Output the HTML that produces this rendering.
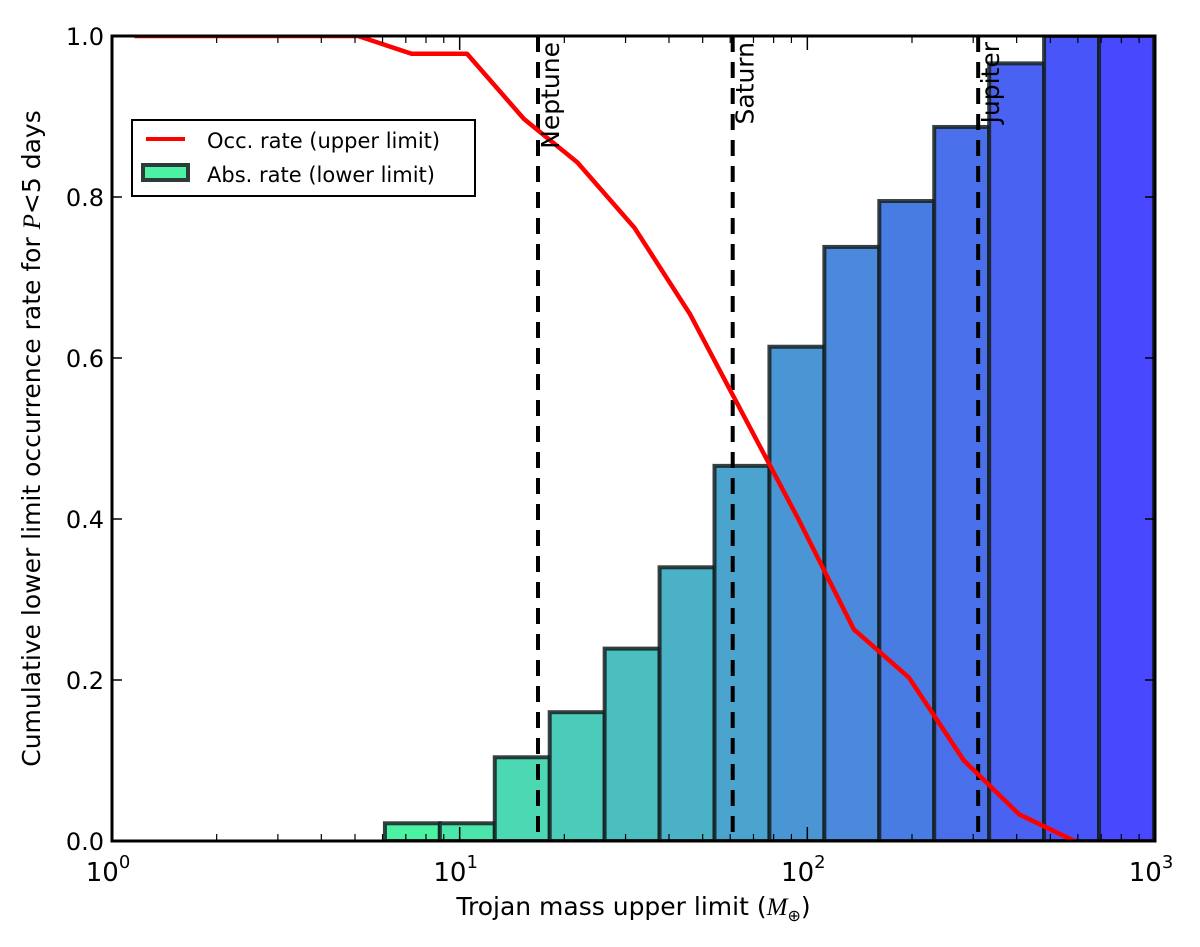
<!DOCTYPE html>
<html><head><meta charset="utf-8"><style>
html,body{margin:0;padding:0;background:#fff;}
svg{display:block;font-family:"DejaVu Sans","Liberation Sans",sans-serif;}
</style></head><body>
<svg id="chart" width="1200" height="947" viewBox="0 0 1200 947"></svg>
<script>
const binStartLog = 0.785;
const binStepLog = 0.158;
const barHeights = [0.022,0.022,0.104,0.160,0.239,0.340,0.466,0.614,0.738,0.795,0.887,0.966,1.0,1.0];
const lineX = [1.16,5.1,7.27,10.5,15.3,21.8,31.8,45.9,65.3,94.2,136,196,282,407,587];
const lineY = [1.0,1.0,0.978,0.978,0.897,0.843,0.762,0.655,0.53,0.40,0.263,0.203,0.10,0.033,0.0];
const planetNames = ["Neptune","Saturn","Jupiter"];
const planetMass = [16.8,61,310];
const yTicks = [0.0,0.2,0.4,0.6,0.8,1.0];
const yTickLabels = ["0.0","0.2","0.4","0.6","0.8","1.0"];
const xDecades = [0,1,2,3];

const L=112,R=1155,T=36,B=841;
const NS="http://www.w3.org/2000/svg";
const svg=document.getElementById('chart');
function xs(v){return L+(Math.log10(v))/3*(R-L);}
function xl(lg){return L+lg/3*(R-L);}
function ys(v){return B-v*(B-T);}
function el(tag,attrs,parent){const e=document.createElementNS(NS,tag);for(const k in attrs)e.setAttribute(k,attrs[k]);(parent||svg).appendChild(e);return e;}

const defs=el('defs',{});
const cp=el('clipPath',{id:'clip'},defs);
el('rect',{x:L,y:T,width:R-L,height:B-T},cp);
const plot=el('g',{'clip-path':'url(#clip)'});

const c0=[76,242,164],c1=[72,72,255];
barHeights.forEach((h,i)=>{
  const t=i/(barHeights.length-1);
  const c=c0.map((a,j)=>Math.round(a+(c1[j]-a)*t));
  const x0=xl(binStartLog+i*binStepLog),x1=xl(binStartLog+(i+1)*binStepLog);
  const r=el('rect',{x:x0,y:ys(h),width:x1-x0,height:ys(0)-ys(h),fill:`rgb(${c})`,stroke:'#142020','stroke-opacity':0.85,'stroke-width':4},plot);
  
  
});

planetMass.forEach((m,i)=>{
  const x=xs(m);
  const ln=el('line',{x1:x,x2:x,y1:T,y2:B,stroke:'#000','stroke-width':4,'stroke-dasharray':'16,10'},plot);
  
  
  const tx=el('text',{x:0,y:0,'font-size':25,transform:`translate(${x+21},${T+6}) rotate(-90)`,'text-anchor':'end'});
  tx.textContent=planetNames[i];
  
  
});

const pts=lineX.map((v,i)=>xs(v)+','+ys(lineY[i])).join(' ');
const pl=el('polyline',{points:pts,fill:'none',stroke:'#f00','stroke-width':4.5,'stroke-linejoin':'round'},plot);



const fr=el('rect',{x:L,y:T,width:R-L,height:B-T,fill:'none',stroke:'#000','stroke-width':3});



yTicks.forEach((v,i)=>{
  const y=ys(v);
  el('line',{x1:L,x2:L+10,y1:y,y2:y,stroke:'#000','stroke-width':1.5});
  el('line',{x1:R,x2:R-10,y1:y,y2:y,stroke:'#000','stroke-width':1.5});
  const t=el('text',{x:L-8,y:y+9,'font-size':24,'text-anchor':'end'});
  t.textContent=yTickLabels[i];
  
  
});
xDecades.forEach(d=>{
  const x=xl(d);
  el('line',{x1:x,x2:x,y1:B,y2:B-14,stroke:'#000','stroke-width':1.5});
  el('line',{x1:x,x2:x,y1:T,y2:T+14,stroke:'#000','stroke-width':1.5});
  const t=el('text',{x:x-4,y:B+40,'font-size':26,'text-anchor':'middle'});
  t.textContent='10';
  const s=el('tspan',{dy:-13,'font-size':18},t);
  s.textContent=String(d);
  
  
  if(d<3){for(let k=2;k<10;k++){const xm=xl(d+Math.log10(k));
    el('line',{x1:xm,x2:xm,y1:B,y2:B-7,stroke:'#000','stroke-width':1.2});
    el('line',{x1:xm,x2:xm,y1:T,y2:T+7,stroke:'#000','stroke-width':1.2});}}
});

const xt=el('text',{x:(L+R)/2,y:915,'font-size':25,'text-anchor':'middle'});
xt.innerHTML='Trojan mass upper limit (<tspan font-family="Liberation Serif" font-style="italic">M</tspan><tspan font-size="16" dy="6">⊕</tspan><tspan dy="-6">)</tspan>';


const yt=el('text',{x:0,y:0,'font-size':25,'text-anchor':'middle',transform:`translate(40,${(T+B)/2}) rotate(-90)`});
yt.innerHTML='Cumulative lower limit occurrence rate for <tspan font-family="Liberation Serif" font-style="italic">P</tspan>&lt;5 days';



const lg=el('g',{});


el('rect',{x:132,y:120,width:343,height:76,fill:'#fff',stroke:'#000','stroke-width':2},lg);
el('line',{x1:146,x2:185,y1:139,y2:139,stroke:'#f00','stroke-width':4},lg);
el('rect',{x:143,y:165,width:45,height:15,fill:'#4cf2a4',stroke:'#2e3b3b','stroke-width':4},lg);
const l1=el('text',{x:207,y:148,'font-size':21},lg);l1.textContent='Occ. rate (upper limit)';


const l2=el('text',{x:207,y:182,'font-size':21},lg);l2.textContent='Abs. rate (lower limit)';


</script>
</body></html>
